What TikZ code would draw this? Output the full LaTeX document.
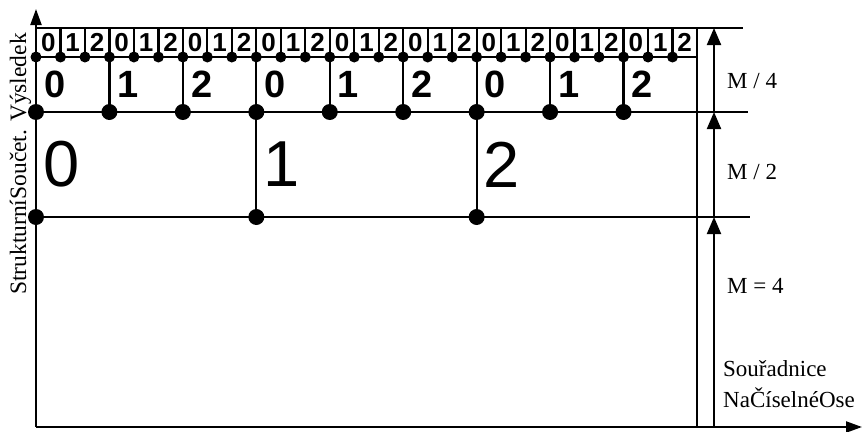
\documentclass[tikz,border=0pt]{standalone}
\usepackage{fontspec}
\setmainfont{Liberation Serif}
\setsansfont{Liberation Sans}
\usetikzlibrary{arrows.meta}

\begin{document}
\begin{tikzpicture}[x=1pt,y=-1pt,
  line/.style={line width=2.2pt},
  axisarrow/.style={line width=2.2pt,-{Triangle[length=16pt,width=11pt]}},
  dimarrow/.style={line width=2pt,-{Triangle[length=17pt,width=14pt]}},
  dot/.style={circle,fill,inner sep=0pt,minimum size=#1},
  cellnum/.style={font=\sffamily\bfseries\fontsize{26}{26}\selectfont,inner sep=0pt},
  groupnum/.style={font=\sffamily\bfseries\fontsize{38}{38}\selectfont,inner sep=0pt,anchor=west},
  blocknum/.style={font=\sffamily\fontsize{65}{65}\selectfont,inner sep=0pt,anchor=west},
  dimnote/.style={font=\fontsize{23}{27}\selectfont,inner sep=0pt,anchor=west}
]
\useasboundingbox (0,0) rectangle (864,431);

% first row: 0 1 2 in every small cell
\foreach \k in {0,...,26} {
  \pgfmathtruncatemacro{\d}{mod(\k,3)}
  \node[cellnum] (c\k) at ({36+24.48*(\k+0.5)},42.5) {\d};
  \node[dot=11pt] (p\k) at ({36+24.48*\k},57) {};
  \draw[line] (p\k.center) -- ({36+24.48*\k},28);
}
% second row
\foreach \j in {0,...,8} {
  \pgfmathtruncatemacro{\d}{mod(\j,3)}
  \node[dot=16pt] (q\j) at ({36+73.44*\j},112) {};
  \node[groupnum] (g\j) at ({36+73.44*\j+8},84.5) {\d};
  \draw[line] (q\j.center) -- ({36+73.44*\j},57);
}
% third row
\foreach \b in {0,1,2} {
  \node[dot=16pt] (r\b) at ({36+220.33*\b},217) {};
  \node[blocknum] (n\b) at ({36+220.33*\b+7},164.5) {\b};
  \draw[line] (r\b.center) -- ({36+220.33*\b},112);
}

\draw[line] (36,28) -- (743,28);
\draw[line] (p0.center) -- (697,57);
\draw[line] (q0.center) -- (748,112);
\draw[line] (r0.center) -- (750,217);
\draw[line] (697,28) -- (697,427);

% axes
\coordinate (o) at (36,427);
\coordinate (ytip) at (36,9);
\coordinate (xtip) at (862,427);
\draw[axisarrow] (o) -- (ytip);
\draw[axisarrow] (o) -- (xtip);

% dimension arrows
\coordinate (d0) at (714,427);
\coordinate (d1) at (714,217);
\coordinate (d2) at (714,112);
\coordinate (d3) at (714,28);
\draw[dimarrow] (d0) -- (d1);
\draw[dimarrow] (d1) -- (d2);
\draw[dimarrow] (d2) -- (d3);

\node[dimnote] (m4) at (727,81) {M / 4};
\node[dimnote] (m2) at (727,172) {M / 2};
\node[dimnote] (meq) at (727,286) {M = 4};
\node[dimnote,anchor=base west] (sour) at (723,376) {Souřadnice};
\node[dimnote,anchor=base west] (osa) at (723,407) {NaČíselnéOse};
\node[font=\fontsize{23.5}{27}\selectfont,inner sep=0pt,rotate=90,anchor=base] (ylab) at (26,164) {StrukturníSoučet. Výsledek};
\end{tikzpicture}
\end{document}
